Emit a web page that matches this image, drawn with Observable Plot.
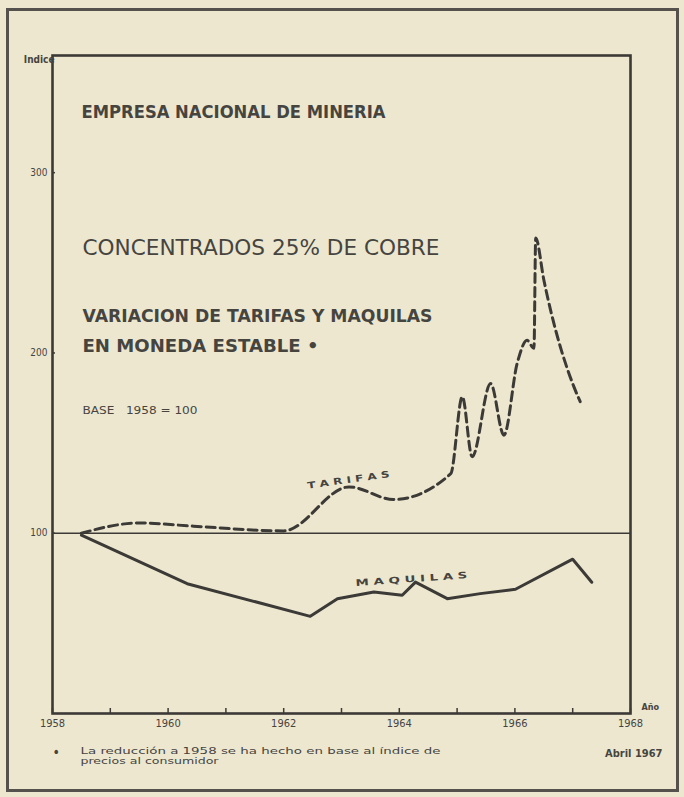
<!DOCTYPE html>
<html><head><meta charset="utf-8">
<script src="https://cdn.jsdelivr.net/npm/d3@7"></script>
<script src="https://cdn.jsdelivr.net/npm/@observablehq/plot@0.6"></script>
<style>
html,body{margin:0;padding:0;background:#ede7d0;}
#wrap{position:relative;width:684px;height:797px;background:#ede7d0;overflow:hidden;}
#border{position:absolute;left:6px;top:8px;width:673px;height:784px;border:3px solid #55524d;box-sizing:border-box;pointer-events:none;}
#chart{position:absolute;left:0;top:0;}
</style></head>
<body><div id="wrap"><div id="chart"></div><div id="border"></div></div>
<script>
// ---- data ----
const years = [1958, 1959, 1960, 1961, 1962, 1963, 1964, 1965, 1966, 1967, 1968];
const labelYears = [1958, 1960, 1962, 1964, 1966, 1968];
const yTicks = [100, 200, 300];
const baseValue = [100];

const tarifaYear  = [1958.5, 1959.5, 1960.44, 1962.0, 1963.13, 1963.9, 1964.89, 1965.09, 1965.26, 1965.58, 1965.81, 1966.04, 1966.21, 1966.33, 1966.36, 1966.5, 1967.02, 1967.13];
const tarifaValue = [100, 105.7, 103.9, 101.3, 125.7, 118.7, 133, 175.7, 142.4, 183, 154.4, 194.3, 207, 202.6, 263.7, 240.6, 181.3, 173];

const maquilaYear  = [1958.5, 1960.33, 1962.46, 1962.93, 1963.56, 1964.05, 1964.28, 1964.83, 1965.4, 1966.01, 1967.0, 1967.33];
const maquilaValue = [99, 72, 53.9, 63.7, 67.4, 65.6, 72.9, 63.7, 66.5, 68.9, 85.6, 72.8];

const seriesLabels = ["T A R I F A S", "M A Q U I L A S"];
const seriesLabelYear = [1963.12, 1964.21];
const seriesLabelValue = [129.5, 74.5];
const seriesLabelAngle = [-8, -4];

const titleLines = ["EMPRESA NACIONAL DE MINERIA", "CONCENTRADOS 25% DE COBRE", "VARIACION DE TARIFAS Y MAQUILAS", "EN MONEDA ESTABLE •", "BASE\u00a0\u00a0\u00a01958 = 100"];
const yAxisLabel = ["Indice"];
const xAxisLabel = ["Año"];
const footnoteMark = ["•"];
const footnoteLines = ["La reducción a 1958 se ha hecho en base al índice de", "precios al consumidor"];
const dateLabel = ["Abril 1967"];

// ---- build ----
const tarifas = tarifaYear.map((x, i) => ({x, y: tarifaValue[i]}));
const maquilas = maquilaYear.map((x, i) => ({x, y: maquilaValue[i]}));
const labels = seriesLabels.map((t, i) => ({t, x: seriesLabelYear[i], y: seriesLabelValue[i], r: seriesLabelAngle[i]}));

const INK = "#3c3a36";
const TXT = "#46443f";
const cond = "'DejaVu Sans Condensed', 'Liberation Sans Narrow', 'DejaVu Sans', sans-serif";
const sans = "'DejaVu Sans', sans-serif";

const tl = (text, dx, dy, size, weight) => Plot.text([text], {
  frameAnchor: "top-left", dx, dy, textAnchor: "start", lineAnchor: "middle",
  fontSize: size, fontWeight: weight, fill: TXT, fontFamily: sans
});

const svg = Plot.plot({
  width: 684, height: 797,
  marginLeft: 52, marginRight: 54, marginTop: 55, marginBottom: 84,
  style: {background: "transparent", color: INK, fontFamily: cond},
  x: {domain: [1958, 1968]},
  y: {domain: [0, 365]},
  marks: [
    Plot.ruleY(baseValue, {stroke: INK, strokeWidth: 1.6}),
    Plot.line(tarifas, {x: "x", y: "y", curve: "monotone-x", stroke: INK, strokeWidth: 3, strokeDasharray: "9,5"}),
    Plot.line(maquilas, {x: "x", y: "y", stroke: INK, strokeWidth: 3, strokeLinejoin: "round"}),
    Plot.text(labels, {x: "x", y: "y", text: "t", rotate: "r", fontSize: 9, fontWeight: "bold", fill: TXT, fontFamily: sans}),
    Plot.frame({stroke: INK, strokeWidth: 2.6}),
    Plot.axisX({ticks: years, tickSize: 5, dy: -5, tickFormat: () => "", stroke: INK, strokeWidth: 1.5, label: null}),
    Plot.axisX({ticks: labelYears, tickSize: 0, tickPadding: 6, tickFormat: d => String(d), fontSize: 11, fill: TXT, label: null}),
    Plot.axisY({ticks: yTicks, tickSize: 3, dx: 3, tickFormat: () => "", stroke: INK, strokeWidth: 1.5, label: null}),
    Plot.axisY({ticks: yTicks, tickSize: 0, tickPadding: 5, tickFormat: d => String(d), fontSize: 10, fill: TXT, label: null}),
    Plot.text(yAxisLabel, {frameAnchor: "top-left", dx: 2, dy: 0, textAnchor: "end", fontSize: 10, fontWeight: "bold", fill: TXT}),
    Plot.text(xAxisLabel, {frameAnchor: "bottom-right", dx: 11, dy: -4, textAnchor: "start", fontSize: 9, fontWeight: "bold", fill: TXT}),
    tl(titleLines[0], 29, 57, 18, "bold"),
    tl(titleLines[1], 30, 193, 21, "normal"),
    tl(titleLines[2], 30, 261, 17, "bold"),
    tl(titleLines[3], 30, 291, 17, "bold"),
    tl(titleLines[4], 30, 355, 11, "normal"),
    Plot.text(footnoteMark, {frameAnchor: "bottom-left", dx: 0, dy: 43, fontSize: 14, fill: TXT}),
    tl(footnoteLines[0], 28, 696, 9, "normal"),
    tl(footnoteLines[1], 28, 706, 9, "normal"),
    Plot.text(dateLabel, {frameAnchor: "bottom-right", dx: 32, dy: 43, textAnchor: "end", fontSize: 11, fontWeight: "bold", fill: TXT, fontFamily: cond})
  ]
});

const fit = (str, w) => d3.select(svg).selectAll("text")
  .filter(function () { return this.textContent === str; })
  .attr("textLength", w).attr("lengthAdjust", "spacingAndGlyphs");
fit(titleLines[0], 304); fit(titleLines[1], 357); fit(titleLines[2], 350); fit(titleLines[3], 236); fit(titleLines[4], 115);
fit(footnoteLines[0], 360); fit(footnoteLines[1], 138); fit(seriesLabels[0], 83); fit(seriesLabels[1], 112);
d3.select(svg).selectAll("text").style("white-space", "pre");

document.getElementById("chart").appendChild(svg);
</script>
</body></html>
